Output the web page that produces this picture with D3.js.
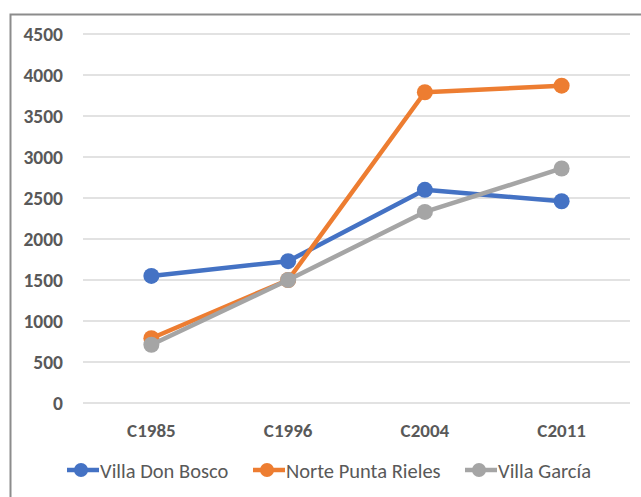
<!DOCTYPE html>
<html>
<head>
<meta charset="utf-8">
<script src="https://cdn.jsdelivr.net/npm/d3@7"></script>
<style>
  body { margin: 0; background: #fff; }
  svg { display: block; }
</style>
</head>
<body>
<div id="chart"></div>
<script>
// chart data
const categories = ['C1985', 'C1996', 'C2004', 'C2011'];
const donBosco = [1550, 1730, 2600, 2460];
const norteRieles = [790, 1500, 3790, 3870];
const villaGarcia = [710, 1500, 2330, 2860];
const yTicks = [0, 500, 1000, 1500, 2000, 2500, 3000, 3500, 4000, 4500];

const series = [
  { name: 'Villa Don Bosco', values: donBosco, color: '#4472C4' },
  { name: 'Norte Punta Rieles', values: norteRieles, color: '#ED7D31' },
  { name: 'Villa García', values: villaGarcia, color: '#A5A5A5' }
];

const width = 641, height = 497;
const font = 'Carlito, Lato, "Liberation Sans", sans-serif';

const svg = d3.select('#chart').append('svg')
  .attr('width', width)
  .attr('height', height);

// outer frame (runs off the right and bottom)
svg.append('rect')
  .attr('x', 10.5).attr('y', 14.5)
  .attr('width', 700).attr('height', 600)
  .attr('fill', 'none')
  .attr('stroke', '#8c8c8c')
  .attr('stroke-width', 2);

const x = d3.scaleBand().domain(categories).range([83, 630]);
const y = d3.scaleLinear().domain([0, 4500]).range([403, 34]);

// gridlines
svg.append('g')
  .selectAll('line')
  .data(yTicks)
  .join('line')
  .attr('x1', 83).attr('x2', 630)
  .attr('y1', d => y(d)).attr('y2', d => y(d))
  .attr('stroke', '#d9d9d9')
  .attr('stroke-width', 1.3);

// y labels
svg.append('g')
  .selectAll('text')
  .data(yTicks)
  .join('text')
  .attr('x', 63)
  .attr('y', d => y(d) + 7)
  .attr('text-anchor', 'end')
  .attr('font-family', font)
  .attr('font-weight', 'bold')
  .attr('font-size', 19.5)
  .attr('fill', '#595959')
  .text(d => d);

// x labels
svg.append('g')
  .selectAll('text')
  .data(categories)
  .join('text')
  .attr('x', d => x(d) + x.bandwidth() / 2)
  .attr('y', 437)
  .attr('text-anchor', 'middle')
  .attr('font-family', font)
  .attr('font-weight', 'bold')
  .attr('font-size', 19)
  .attr('fill', '#595959')
  .text(d => d);

const line = d3.line()
  .x((d, i) => x(categories[i]) + x.bandwidth() / 2)
  .y(d => y(d));

series.forEach(s => {
  const g = svg.append('g');
  g.append('path')
    .attr('d', line(s.values))
    .attr('fill', 'none')
    .attr('stroke', s.color)
    .attr('stroke-width', 4.5)
    .attr('stroke-linejoin', 'round');
  g.selectAll('circle')
    .data(s.values)
    .join('circle')
    .attr('cx', (d, i) => x(categories[i]) + x.bandwidth() / 2)
    .attr('cy', d => y(d))
    .attr('r', 8)
    .attr('fill', s.color);
});

// legend
const legendX = [67, 253, 465];
series.forEach((s, i) => {
  const g = svg.append('g').attr('transform', `translate(${legendX[i]},470)`);
  g.append('line')
    .attr('x1', 0).attr('x2', 32)
    .attr('stroke', s.color)
    .attr('stroke-width', 4.5);
  g.append('circle')
    .attr('cx', 14).attr('r', 7)
    .attr('fill', s.color);
  g.append('text')
    .attr('x', 33).attr('y', 7.5)
    .attr('font-family', font)
    .attr('font-size', 20.5)
    .attr('fill', '#595959')
    .text(s.name);
});
</script>
</body>
</html>
